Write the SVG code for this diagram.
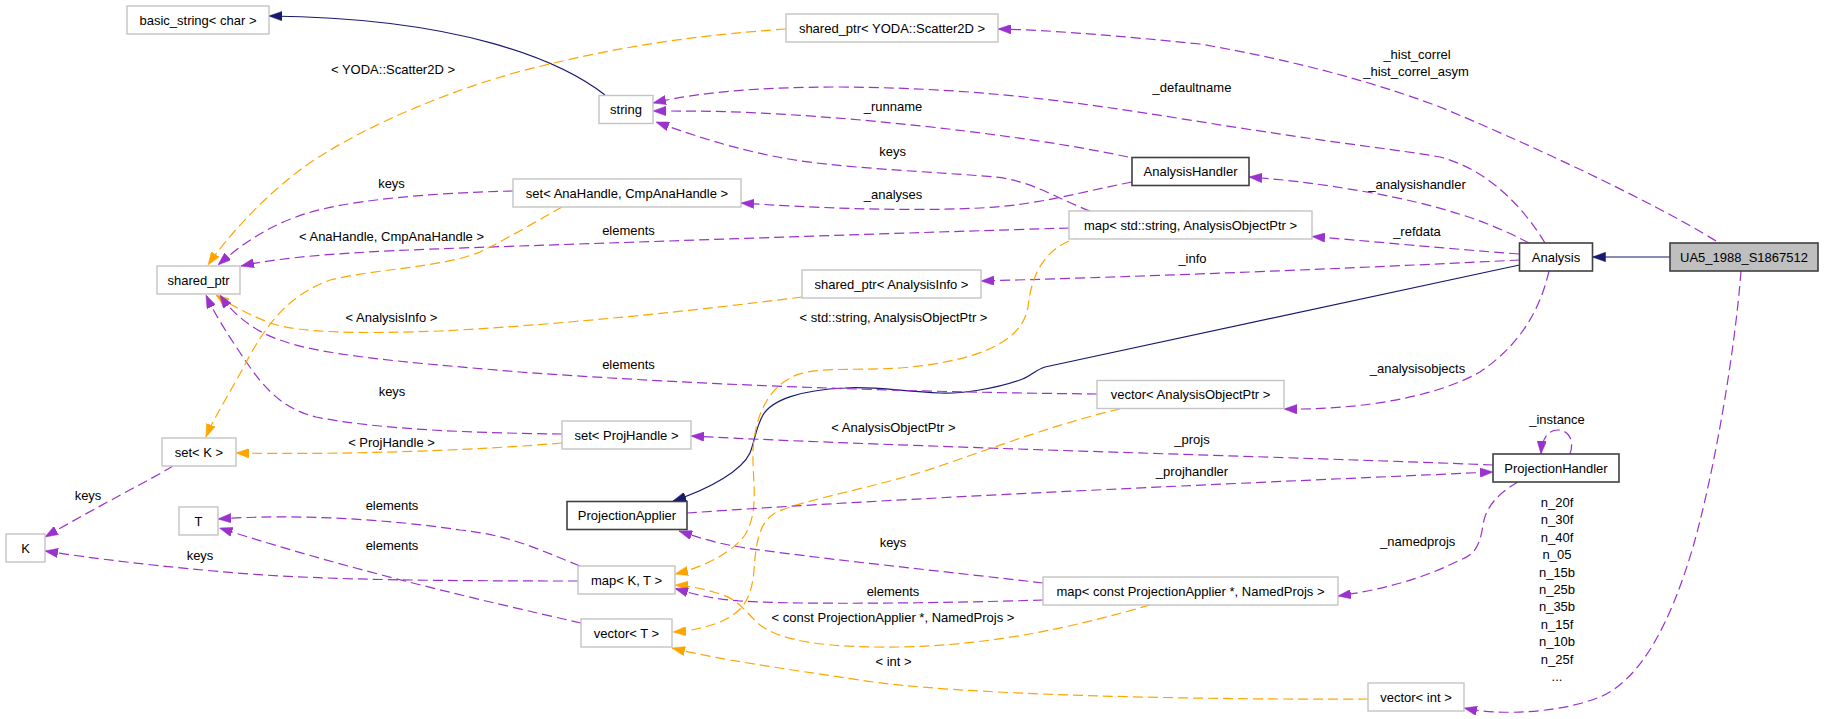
<svg xmlns="http://www.w3.org/2000/svg" width="1824" height="719" viewBox="0 0 1824 719">
<defs>
<style>
text{font-family:"Liberation Sans",Arial,sans-serif;font-size:13px;fill:#000;text-anchor:middle}
.g rect{fill:#fff;stroke:#c4c4c4;stroke-width:1.4}
.k rect{fill:#fff;stroke:#404040;stroke-width:1.6}
.m rect{fill:#bfbfbf;stroke:#404040;stroke-width:1.6}
#edges path{fill:none;stroke-width:1.2}
#edges path.p{stroke:#9a32cd;stroke-dasharray:10,5;marker-end:url(#ap)}
#edges path.o{stroke:#ffa500;stroke-dasharray:10,5;marker-end:url(#ao)}
#edges path.b{stroke:#191970;marker-end:url(#ab)}
</style>
<marker id="ap" viewBox="0 0 13 9.4" refX="13" refY="4.7" markerWidth="13" markerHeight="9.4" markerUnits="userSpaceOnUse" orient="auto"><path d="M0,0 L13,4.7 L0,9.4 z" fill="#9a32cd" stroke="#9a32cd" stroke-width="0.5"/></marker>
<marker id="ao" viewBox="0 0 13 9.4" refX="13" refY="4.7" markerWidth="13" markerHeight="9.4" markerUnits="userSpaceOnUse" orient="auto"><path d="M0,0 L13,4.7 L0,9.4 z" fill="#ffa500" stroke="#ffa500" stroke-width="0.5"/></marker>
<marker id="ab" viewBox="0 0 13 9.4" refX="13" refY="4.7" markerWidth="13" markerHeight="9.4" markerUnits="userSpaceOnUse" orient="auto"><path d="M0,0 L13,4.7 L0,9.4 z" fill="#191970" stroke="#191970" stroke-width="0.5"/></marker>
</defs>
<rect width="1824" height="719" fill="#fff"/>

<g id="edges">
<path class="b" d="M605,95 C560,60 460,18 269,16"/>
<path class="b" d="M1670,257 L1592.5,257"/>
<path class="b" d="M1519.5,265 L1045,367 C1035,370 1030,377 1020,380 C995,389 960,394 940,393 C900,391 870,386 845,388 C800,390 772,400 763,415 C756,427 755,440 750,453 C742,470 712,488 673,501"/>
<path class="p" d="M1716,241 C1650,200 1520,140 1440,107 C1360,77 1280,58 1200,44 C1120,36 1050,30 998,29"/>
<path class="p" d="M1741,271 C1735,350 1715,470 1693,547 C1670,625 1640,680 1600,697 C1560,713 1500,716 1464,708"/>
<path class="p" d="M1545,243 C1525,210 1490,170 1440,157 C1400,150 1350,145 1240,128 C1100,106 1000,88 840,87 C760,87 700,92 653,103"/>
<path class="p" d="M1128,157 C1050,140 900,120 760,113 C720,111 690,111 653,111"/>
<path class="p" d="M1090,211 C1060,200 1030,180 995,177 C940,172 830,168 778,157 C740,150 700,138 656,122"/>
<path class="p" d="M1132,182 C1080,192 1040,205 980,208 C900,212 800,207 741,203"/>
<path class="p" d="M1529,243 C1490,222 1440,205 1367,192 C1320,184 1290,180 1249,177"/>
<path class="p" d="M1519,254 C1450,249 1380,242 1312,236.5"/>
<path class="p" d="M1519.5,260 C1400,266 1200,275 981,281"/>
<path class="p" d="M1549,271 C1540,310 1520,345 1480,372 C1430,400 1350,410 1284,409"/>
<path class="o" d="M786,29 C700,35 620,45 514,73 C420,100 340,140 300,170 C260,200 225,240 208,265"/>
<path class="p" d="M513,191 C430,193 340,200 296,217 C260,230 235,250 218,265"/>
<path class="p" d="M1069,228 C900,233 700,240 520,246 C400,250 300,253 241,266"/>
<path class="o" d="M802,297 C700,310 560,325 440,331 C360,334 300,333 270,323 C250,315 230,305 216,295"/>
<path class="p" d="M1097,394 C900,392 700,385 520,372 C400,362 320,355 280,340 C250,330 230,310 220,295"/>
<path class="p" d="M562,434 C480,433 380,430 316,417 C280,408 262,385 245,360 C230,338 215,315 206,295"/>
<path class="o" d="M562,207 C535,222 505,240 480,252 C440,268 380,268 330,280 C290,295 270,320 250,355 C232,390 215,415 206,437"/>
<path class="o" d="M562,443 C480,450 350,455 236,453"/>
<path class="p" d="M173,466 C150,480 100,505 45,537"/>
<path class="p" d="M578,581 C450,581 330,580 250,574 C160,567 90,558 45,551"/>
<path class="p" d="M580,566 C540,550 510,535 460,530 C380,518 290,514 218,519"/>
<path class="p" d="M581,623 C480,600 350,570 219.5,528"/>
<path class="o" d="M1069,241 C1035,256 1030,290 1028,307 C1022,345 970,362 900,368 C850,371 810,366 790,378 C765,392 755,420 753,450 C752,480 760,510 745,535 C730,555 700,568 675,574"/>
<path class="o" d="M1150,605 C1080,625 1000,645 900,647 C820,648 780,640 760,625 C745,612 740,600 720,594 C705,589 690,586 675,585"/>
<path class="p" d="M1043,600 C950,603 800,605 740,601 C710,599 690,593 675,588.5"/>
<path class="p" d="M1043,583 C950,572 850,562 760,550 C720,545 700,538 679,531"/>
<path class="o" d="M1120,409 C1070,420 1000,445 940,466 C880,487 800,500 775,513 C760,522 756,540 754,570 C752,595 745,612 720,622 C705,628 690,631 673,632"/>
<path class="o" d="M1368,699 C1200,700 950,695 860,680 C780,668 720,660 672,648"/>
<path class="p" d="M687,513 C900,498 1200,485 1493,472"/>
<path class="p" d="M1493,465 C1300,457 900,447 691,436"/>
<path class="p" d="M1570,454 C1575,440 1568,430 1558,430 C1548,430 1542,438 1541,454"/>
<path class="p" d="M1518,482 C1495,495 1485,510 1483,525 C1480,545 1475,555 1460,560 C1420,580 1380,590 1338,596"/>
</g>

<g id="edge-labels">
<text x="393" y="74">&lt; YODA::Scatter2D &gt;</text>
<text x="391.5" y="187.5">keys</text>
<text x="391.5" y="240.5">&lt; AnaHandle, CmpAnaHandle &gt;</text>
<text x="628.5" y="235">elements</text>
<text x="391.5" y="321.5">&lt; AnalysisInfo &gt;</text>
<text x="628.5" y="368.5">elements</text>
<text x="392" y="396">keys</text>
<text x="391.5" y="446.5">&lt; ProjHandle &gt;</text>
<text x="88" y="499.5">keys</text>
<text x="392" y="510">elements</text>
<text x="200" y="559.5">keys</text>
<text x="392" y="549.5">elements</text>
<text x="893.5" y="321.5">&lt; std::string, AnalysisObjectPtr &gt;</text>
<text x="893.5" y="431.5">&lt; AnalysisObjectPtr &gt;</text>
<text x="893" y="547">keys</text>
<text x="893" y="595.5">elements</text>
<text x="893" y="622">&lt; const ProjectionApplier *, NamedProjs &gt;</text>
<text x="893.5" y="666">&lt; int &gt;</text>
<text x="1417" y="59">_hist_correl</text>
<text x="1416" y="76">_hist_correl_asym</text>
<text x="1192" y="91.5">_defaultname</text>
<text x="893" y="111.3">_runname</text>
<text x="892.6" y="156.3">keys</text>
<text x="893" y="199">_analyses</text>
<text x="1417" y="188.5">_analysishandler</text>
<text x="1417" y="235.5">_refdata</text>
<text x="1192.5" y="263.3">_info</text>
<text x="1417.5" y="373">_analysisobjects</text>
<text x="1557" y="423.5">_instance</text>
<text x="1192" y="444">_projs</text>
<text x="1192" y="475.5">_projhandler</text>
<text x="1417.7" y="546.3">_namedprojs</text>
<text x="1557" y="507">n_20f</text>
<text x="1557" y="524.4">n_30f</text>
<text x="1557" y="541.8">n_40f</text>
<text x="1557" y="559.2">n_05</text>
<text x="1557" y="576.6">n_15b</text>
<text x="1557" y="594">n_25b</text>
<text x="1557" y="611.4">n_35b</text>
<text x="1557" y="628.8">n_15f</text>
<text x="1557" y="646.2">n_10b</text>
<text x="1557" y="663.6">n_25f</text>
<text x="1557" y="681">...</text>
</g>

<g id="node-basic_string" class="g"><rect x="127" y="6" width="142" height="28"/><text x="198" y="24.5">basic_string&lt; char &gt;</text></g>
<g id="node-shared_ptr_yoda" class="g"><rect x="786" y="14" width="212" height="28"/><text x="892" y="32.5">shared_ptr&lt; YODA::Scatter2D &gt;</text></g>
<g id="node-string" class="g"><rect x="599" y="95.5" width="54" height="28"/><text x="626" y="114">string</text></g>
<g id="node-AnalysisHandler" class="k"><rect x="1132" y="157.5" width="117" height="28"/><text x="1190.5" y="176">AnalysisHandler</text></g>
<g id="node-map_string" class="g"><rect x="1069" y="211" width="243" height="28"/><text x="1190.5" y="229.5">map&lt; std::string, AnalysisObjectPtr &gt;</text></g>
<g id="node-Analysis" class="k"><rect x="1519.5" y="243" width="73" height="28"/><text x="1556" y="261.5">Analysis</text></g>
<g id="node-UA5" class="m"><rect x="1670" y="243" width="148" height="28"/><text x="1744" y="261.5">UA5_1988_S1867512</text></g>
<g id="node-shared_ptr_info" class="g"><rect x="802" y="270" width="179" height="28"/><text x="891.5" y="288.5">shared_ptr&lt; AnalysisInfo &gt;</text></g>
<g id="node-shared_ptr" class="g"><rect x="157" y="266" width="83" height="28"/><text x="198.5" y="284.5">shared_ptr</text></g>
<g id="node-set_anahandle" class="g"><rect x="513" y="179" width="228" height="28"/><text x="627" y="197.5">set&lt; AnaHandle, CmpAnaHandle &gt;</text></g>
<g id="node-vector_aop" class="g"><rect x="1097" y="380.5" width="187" height="28"/><text x="1190.5" y="399">vector&lt; AnalysisObjectPtr &gt;</text></g>
<g id="node-set_projhandle" class="g"><rect x="562" y="421" width="129" height="28"/><text x="626.5" y="439.5">set&lt; ProjHandle &gt;</text></g>
<g id="node-set_K" class="g"><rect x="162" y="438" width="74" height="28"/><text x="199" y="456.5">set&lt; K &gt;</text></g>
<g id="node-K" class="g"><rect x="6" y="534" width="39" height="28"/><text x="25.5" y="552.5">K</text></g>
<g id="node-T" class="g"><rect x="179" y="507" width="39" height="28"/><text x="198.5" y="525.5">T</text></g>
<g id="node-ProjectionApplier" class="k"><rect x="567" y="501.5" width="120" height="28"/><text x="627" y="520">ProjectionApplier</text></g>
<g id="node-map_KT" class="g"><rect x="578" y="566" width="97" height="28"/><text x="626.5" y="584.5">map&lt; K, T &gt;</text></g>
<g id="node-vector_T" class="g"><rect x="581" y="619" width="91" height="28"/><text x="626.5" y="637.5">vector&lt; T &gt;</text></g>
<g id="node-map_constPA" class="g"><rect x="1043" y="577" width="295" height="28"/><text x="1190.5" y="595.5">map&lt; const ProjectionApplier *, NamedProjs &gt;</text></g>
<g id="node-ProjectionHandler" class="k"><rect x="1493" y="454" width="126" height="28"/><text x="1556" y="472.5">ProjectionHandler</text></g>
<g id="node-vector_int" class="g"><rect x="1368" y="683" width="96" height="28"/><text x="1416" y="701.5">vector&lt; int &gt;</text></g>
</svg>
